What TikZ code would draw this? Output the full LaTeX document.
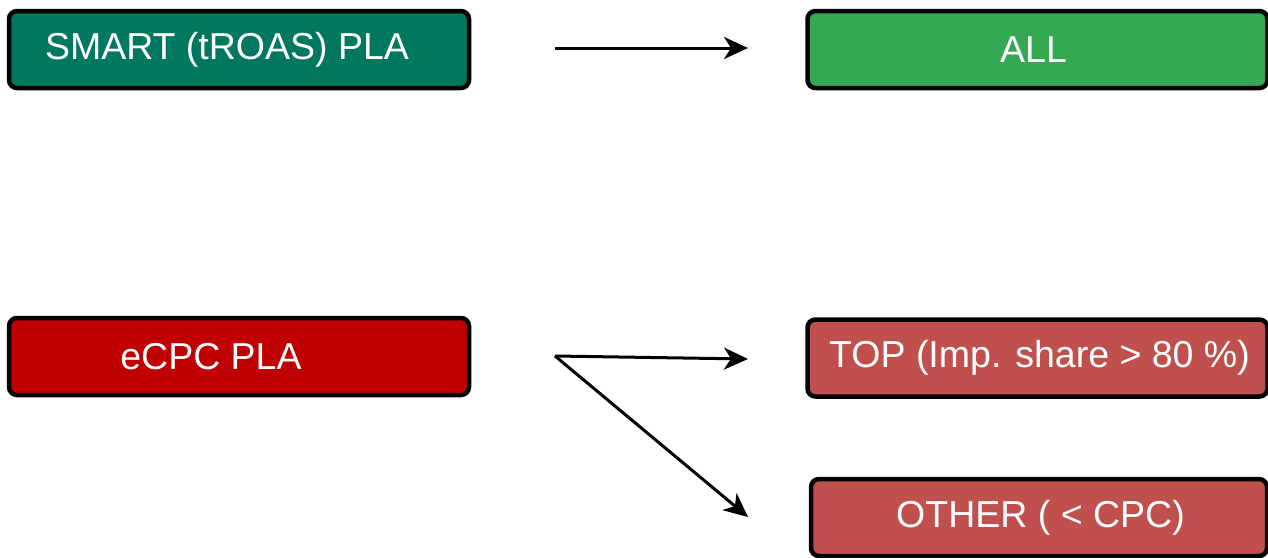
\documentclass[tikz,border=0pt]{standalone}
\usepackage{fontspec}
\setmainfont{Liberation Sans}
\usetikzlibrary{arrows.meta,positioning}
\definecolor{smartteal}{HTML}{00775F}
\definecolor{allgreen}{HTML}{34A853}
\definecolor{ecpcred}{HTML}{C00000}
\definecolor{bidred}{HTML}{C0504D}
\begin{document}
\begin{tikzpicture}[x=1pt, y=-1pt,
   box/.style={draw=black, line width=4.5pt, rounded corners=8pt,
               minimum width=460pt, minimum height=77pt, inner sep=0pt},
   lbl/.style={text=white, inner sep=0pt, font=\fontsize{37.5}{42}\selectfont},
   arr/.style={-{Stealth[length=24pt, width=22pt, inset=7pt]}, line width=3pt}]

\useasboundingbox (0,0) rectangle (1268,557);

\node[box, fill=smartteal] (smart) at (239,49.5) {};
\node[lbl] (smarttxt) at ([xshift=-12]smart.center) {SMART (tROAS) PLA};

\node[box, fill=allgreen] (all) at (1037.5,49.5) {};
\node[lbl] (alltxt) at ([xshift=-4]all.center) {ALL};

\node[box, fill=ecpcred] (ecpc) at (239,356.5) {};
\node[lbl] (ecpctxt) at ([xshift=-28]ecpc.center) {eCPC PLA};

\node[box, fill=bidred] (top) at (1037.5,358) {};
\node[lbl] (toptxt) at ([xshift=2]top.center) {TOP (Imp. share > 80 \%)};

\node[box, fill=bidred, minimum width=456pt] (other) at (1039,517.5) {};
\node[lbl] (othertxt) at ([xshift=1.5]other.center) {OTHER ( < CPC)};

\coordinate (smartout) at (555,48);
\coordinate (allin) at (748,48);
\coordinate (ecpcout) at (555,356);
\coordinate (topin) at (748,359);
\coordinate (otherin) at (748,517);

\draw[arr] (smartout) -- (allin);
\draw[arr] (ecpcout) -- (topin);
\draw[arr] (ecpcout) -- (otherin);

\end{tikzpicture}
\end{document}
